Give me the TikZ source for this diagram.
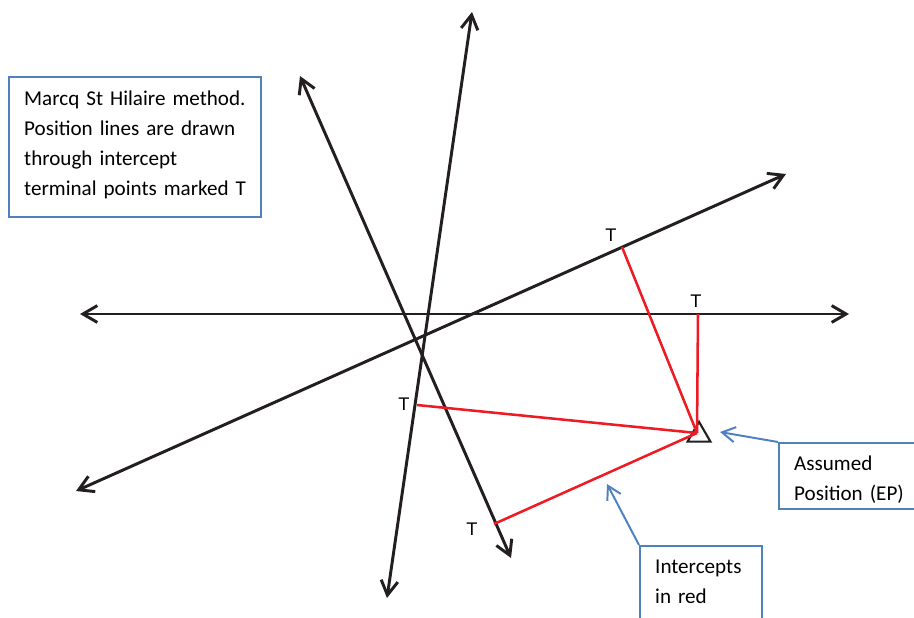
\documentclass[tikz,border=0pt]{standalone}
\usepackage{fontspec}
\setmainfont{Carlito}
\newfontfamily\tfont{Liberation Sans}
\usetikzlibrary{arrows.meta,shapes.geometric}

\definecolor{noteblue}{RGB}{79,129,189}
\definecolor{icptred}{RGB}{237,28,36}
\definecolor{lopblack}{RGB}{35,31,32}

\begin{document}
\begin{tikzpicture}[x=0.025cm, y=-0.025cm,
  lop/.style={{Straight Barb[length=3.6mm,width=4.2mm]}-{Straight Barb[length=3.6mm,width=4.2mm]},
              line width=2.1pt, color=lopblack},
  icpt/.style={line width=1.8pt, color=icptred},
  note/.style={draw=noteblue, line width=1.4pt, fill=white, anchor=north west,
               align=left, inner xsep=0.38cm, inner ysep=0pt,
               font=\fontsize{15}{21.3}\selectfont},
  pointer/.style={-{Straight Barb[length=3.3mm,width=3.8mm]}, line width=1.4pt, color=noteblue},
  tmark/.style={font=\tfont\fontsize{13}{15}\selectfont, inner sep=0pt},
]
\clip (0,0) rectangle (914,618);

% ends of the position lines
\coordinate (v1) at (387,598);
\coordinate (v2) at (472,12);
\coordinate (s1) at (300,76);
\coordinate (s2) at (511,558);
\coordinate (h1) at (80,314);
\coordinate (h2) at (849,314);
\coordinate (d1) at (76,491);
\coordinate (d2) at (786,174);

\draw[lop] (v1) -- (v2);
\draw[lop] (s1) -- (s2);
\draw[lop] (h1) -- (h2);
\draw[lop] (d1) -- (d2);

% assumed position and terminal points
\coordinate (ep) at (697,433);
\node[draw=lopblack, line width=1.5pt, regular polygon, regular polygon sides=3,
      minimum size=0.66cm, inner sep=0pt] (eptri) at (699,435) {};
\coordinate (tp1) at (622,247);
\coordinate (tp2) at (698,314);
\coordinate (tp3) at (417,405);
\coordinate (tp4) at (494,524);

\draw[icpt] (tp1) -- (ep);
\draw[icpt] (tp2) -- (ep);
\draw[icpt] (tp3) -- (ep);
\draw[icpt] (tp4) -- (ep);

\node[tmark] (tl1) at (611,235) {T};
\node[tmark] (tl2) at (696,301) {T};
\node[tmark] (tl3) at (404,404) {T};
\node[tmark] (tl4) at (472,529) {T};

% notes
\node[note, text width=5.55cm, text height=0.725cm, text depth=2.775cm] (method) at (8,76)
  {Marcq St Hilaire method.\\Position lines are drawn\\through intercept\\terminal points marked T};
\node[note, text width=4.5cm, text height=0.7cm, text depth=0.95cm] (aep) at (778,442)
  {Assumed\\Position (EP)};
\node[note, text width=2.3cm, text height=0.7cm, text depth=1.95cm] (icnote) at (639,545)
  {Intercepts\\in red};

\coordinate (eptip) at (720,432);
\coordinate (icpttip) at (607,484);
\draw[pointer] (aep.north west) -- (eptip);
\draw[pointer] (icnote.north west) -- (icpttip);
\end{tikzpicture}
\end{document}
